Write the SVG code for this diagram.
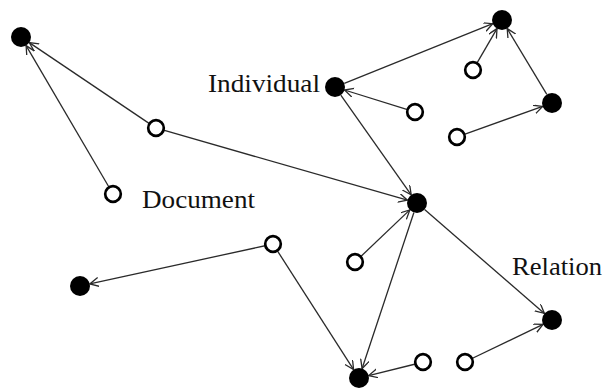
<svg xmlns="http://www.w3.org/2000/svg" width="606" height="388" viewBox="0 0 606 388">
<style>
.e{stroke:#2a2a2a;stroke-width:1.3;fill:none;marker-end:url(#ah)}
.f{fill:#000}
.o{fill:#fff;stroke:#000;stroke-width:2.7}
.t{font-family:"Liberation Serif","Times New Roman",serif;font-size:25px;fill:#111}
</style>
<defs>
<marker id="ah" markerUnits="userSpaceOnUse" markerWidth="12" markerHeight="12" refX="9" refY="4.5" orient="auto">
<path d="M0,0 L9,4.5 L0,9" fill="none" stroke="#2a2a2a" stroke-width="1.3"/>
</marker>
</defs>
<g id="connectors">
<line class="e" x1="150.2" y1="124.1" x2="29.3" y2="42.6"/>
<line class="e" x1="109.5" y1="188" x2="26.1" y2="45.6"/>
<line class="e" x1="162.7" y1="129.9" x2="407.4" y2="200.2"/>
<line class="e" x1="344.3" y1="83.3" x2="492.7" y2="23.7"/>
<line class="e" x1="408.3" y1="109.9" x2="344.5" y2="90"/>
<line class="e" x1="340.8" y1="95.2" x2="411.2" y2="194.8"/>
<line class="e" x1="476.5" y1="63.9" x2="497" y2="28.6"/>
<line class="e" x1="546.8" y1="94.4" x2="507.2" y2="28.6"/>
<line class="e" x1="463.6" y1="134.6" x2="542.6" y2="106.4"/>
<line class="e" x1="360.1" y1="257.2" x2="409.8" y2="209.9"/>
<line class="e" x1="413.9" y1="212.5" x2="362.1" y2="368.5"/>
<line class="e" x1="424.6" y1="209.6" x2="544.4" y2="313.4"/>
<line class="e" x1="266.2" y1="245.5" x2="89.8" y2="283.9"/>
<line class="e" x1="276.8" y1="249.9" x2="353.6" y2="369.6"/>
<line class="e" x1="415.5" y1="364" x2="368.7" y2="375.6"/>
<line class="e" x1="472" y1="358.5" x2="543" y2="324.3"/>
</g>
<g id="nA"><circle class="f" cx="21" cy="37" r="10"/></g>
<g id="nB"><circle class="f" cx="335" cy="87" r="10"/><text class="t" x="208" y="92" textLength="112" lengthAdjust="spacingAndGlyphs">Individual</text></g>
<g id="nC"><circle class="f" cx="502" cy="20" r="10"/></g>
<g id="nD"><circle class="f" cx="552" cy="103" r="10"/></g>
<g id="nE"><circle class="f" cx="417" cy="203" r="10"/></g>
<g id="nF"><circle class="f" cx="552" cy="320" r="10"/><text class="t" x="512" y="275" textLength="90" lengthAdjust="spacingAndGlyphs">Relation</text></g>
<g id="nG"><circle class="f" cx="359" cy="378" r="10"/></g>
<g id="nH"><circle class="f" cx="80" cy="286" r="10"/></g>
<g id="o1"><circle class="o" cx="156" cy="128" r="7.8"/></g>
<g id="o2"><circle class="o" cx="113" cy="194" r="7.8"/><text class="t" x="142" y="208" textLength="113" lengthAdjust="spacingAndGlyphs">Document</text></g>
<g id="o3"><circle class="o" cx="473" cy="70" r="7.8"/></g>
<g id="o4"><circle class="o" cx="415" cy="112" r="7.8"/></g>
<g id="o5"><circle class="o" cx="457" cy="137" r="7.8"/></g>
<g id="o6"><circle class="o" cx="273" cy="244" r="7.8"/></g>
<g id="o7"><circle class="o" cx="355" cy="262" r="7.8"/></g>
<g id="o8"><circle class="o" cx="423" cy="362" r="7.8"/></g>
<g id="o9"><circle class="o" cx="465" cy="362" r="7.8"/></g>
</svg>
